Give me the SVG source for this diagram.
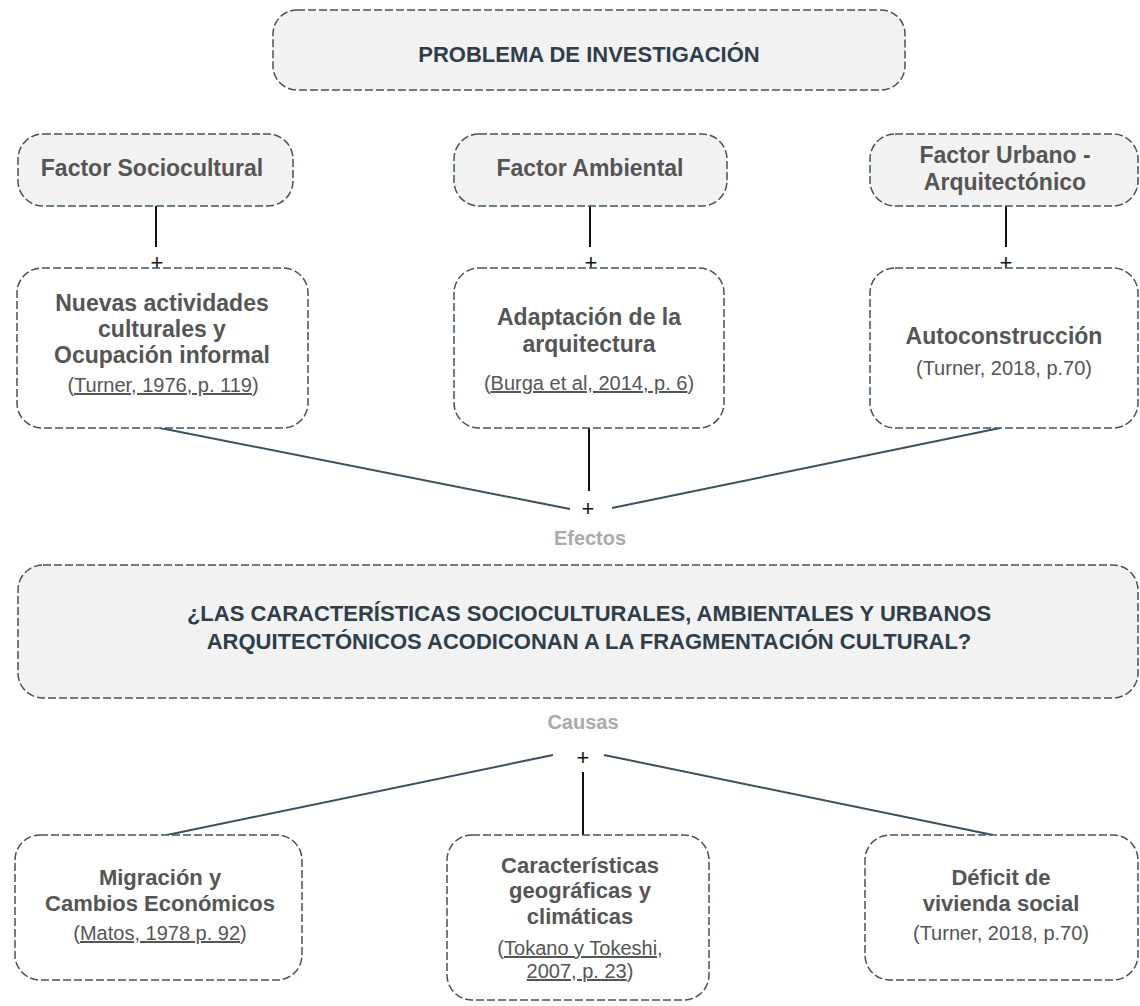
<svg xmlns="http://www.w3.org/2000/svg" width="1140" height="1006" viewBox="0 0 1140 1006">
<style>
.box{stroke:#41525f;stroke-width:1.5;stroke-dasharray:8 3}
.g{fill:#f2f2f2}
.w{fill:#ffffff}
.t{font-family:"Liberation Sans",Arial,sans-serif;font-weight:bold;text-anchor:middle}
.title{fill:#2f3e49;font-size:22px}
.lbl{fill:#555555;font-size:23px}
.lb2{fill:#555555;font-size:22px}
.cit{font-family:"Liberation Sans",Arial,sans-serif;fill:#555555;font-size:20px;text-anchor:middle}
.u{text-decoration:underline}
.side{fill:#aaaaaa;font-size:20px}
.v{stroke:#111111;stroke-width:2}
.s{stroke:#3d4f5c;stroke-width:2}
.plus{font-family:"Liberation Sans",Arial,sans-serif;font-size:22px;fill:#111111;text-anchor:middle}
</style>
<rect width="1140" height="1006" fill="#ffffff"/>
<g id="connectors" fill="none">
<line class="v" x1="156" y1="206" x2="156" y2="247"/>
<line class="v" x1="590" y1="206" x2="590" y2="247"/>
<line class="v" x1="1006" y1="206" x2="1006" y2="247"/>
<line class="s" x1="160" y1="428" x2="570" y2="509"/>
<line class="v" x1="589" y1="428" x2="589" y2="491"/>
<line class="s" x1="612" y1="508" x2="1000" y2="428"/>
<line class="s" x1="553" y1="755" x2="167" y2="835"/>
<line class="s" x1="604" y1="755" x2="993" y2="835"/>
<line class="v" x1="583" y1="772" x2="583" y2="835"/>
<text class="plus" x="157" y="270">+</text>
<text class="plus" x="591" y="270">+</text>
<text class="plus" x="1006" y="270">+</text>
<text class="plus" x="588" y="516">+</text>
<text class="plus" x="583" y="765">+</text>
</g>
<g id="problema">
<rect class="box g" x="273" y="10" width="632" height="80" rx="24"/>
<text class="t title" x="589" y="62">PROBLEMA DE INVESTIGACIÓN</text>
</g>
<g id="factor-sociocultural">
<rect class="box g" x="18" y="134" width="275" height="72" rx="25"/>
<text class="t lbl" x="152" y="176">Factor Sociocultural</text>
</g>
<g id="factor-ambiental">
<rect class="box g" x="454" y="134" width="273" height="72" rx="25"/>
<text class="t lbl" x="590" y="176">Factor Ambiental</text>
</g>
<g id="factor-urbano">
<rect class="box g" x="870" y="134" width="268" height="72" rx="25"/>
<text class="t lbl" x="1005" y="163">Factor Urbano -</text>
<text class="t lbl" x="1005" y="190">Arquitectónico</text>
</g>
<g id="nuevas">
<rect class="box w" x="17" y="268" width="291" height="160" rx="25"/>
<text class="t lbl" x="162" y="311">Nuevas actividades</text>
<text class="t lbl" x="162" y="337">culturales y</text>
<text class="t lbl" x="162" y="363">Ocupación informal</text>
<text class="cit" x="163" y="392"><tspan>(</tspan><tspan class="u">Turner, 1976, p. 119</tspan><tspan>)</tspan></text>
</g>
<g id="adaptacion">
<rect class="box w" x="454" y="268" width="270" height="160" rx="25"/>
<text class="t lbl" x="589" y="325">Adaptación de la</text>
<text class="t lbl" x="589" y="352">arquitectura</text>
<text class="cit" x="589" y="390"><tspan>(</tspan><tspan class="u">Burga et al, 2014, p. 6</tspan><tspan>)</tspan></text>
</g>
<g id="autoconstruccion">
<rect class="box w" x="870" y="268" width="268" height="160" rx="25"/>
<text class="t lbl" x="1004" y="344">Autoconstrucción</text>
<text class="cit" x="1004" y="375">(Turner, 2018, p.70)</text>
</g>
<g id="efectos">
<text class="t side" x="590" y="545">Efectos</text>
</g>
<g id="pregunta">
<rect class="box g" x="18" y="565" width="1120" height="133" rx="25"/>
<text class="t title" x="589" y="621">¿LAS CARACTERÍSTICAS SOCIOCULTURALES, AMBIENTALES Y URBANOS</text>
<text class="t title" x="589" y="649">ARQUITECTÓNICOS ACODICONAN A LA FRAGMENTACIÓN CULTURAL?</text>
</g>
<g id="causas">
<text class="t side" x="583" y="729">Causas</text>
</g>
<g id="migracion">
<rect class="box w" x="15" y="835" width="287" height="145" rx="25"/>
<text class="t lb2" x="160" y="885">Migración y</text>
<text class="t lb2" x="160" y="911">Cambios Económicos</text>
<text class="cit" x="160" y="940"><tspan>(</tspan><tspan class="u">Matos, 1978 p. 92</tspan><tspan>)</tspan></text>
</g>
<g id="caracteristicas">
<rect class="box w" x="447" y="835" width="262" height="165" rx="25"/>
<text class="t lb2" x="580" y="873">Características</text>
<text class="t lb2" x="580" y="898">geográficas y</text>
<text class="t lb2" x="580" y="924">climáticas</text>
<text class="cit" x="580" y="955"><tspan>(</tspan><tspan class="u">Tokano y Tokeshi,</tspan></text>
<text class="cit" x="580" y="978"><tspan class="u">2007, p. 23</tspan><tspan>)</tspan></text>
</g>
<g id="deficit">
<rect class="box w" x="865" y="835" width="273" height="145" rx="25"/>
<text class="t lb2" x="1001" y="885">Déficit de</text>
<text class="t lb2" x="1001" y="911">vivienda social</text>
<text class="cit" x="1001" y="940">(Turner, 2018, p.70)</text>
</g>
</svg>
